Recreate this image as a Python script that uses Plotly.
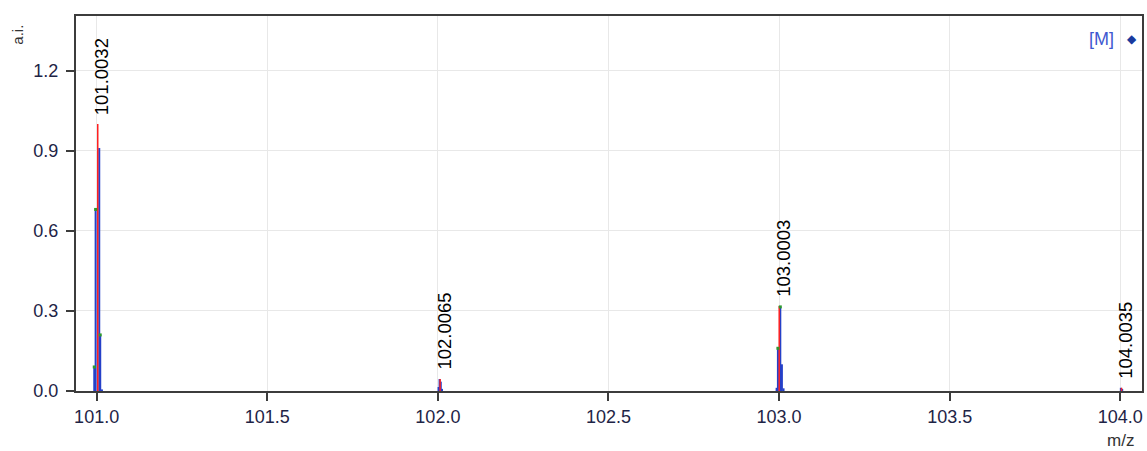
import plotly.graph_objects as go

# Theoretical isotope pattern (red sticks) and labels
theo_mz = [101.0032, 102.0065, 103.0003, 104.0035]
theo_int = [1.00, 0.045, 0.318, 0.012]
peak_labels = ["101.0032", "102.0065", "103.0003", "104.0035"]

# Measured profile points (blue sticks)
meas_mz = [100.9930, 100.9970, 101.0076, 101.0105, 101.0155,
           102.0020, 102.0050, 102.0085, 102.0120,
           102.9927, 102.9965, 103.0035, 103.0082, 103.0130,
           104.0015, 104.0055]
meas_int = [0.09, 0.68, 0.91, 0.21, 0.006,
            0.015, 0.045, 0.035, 0.008,
            0.012, 0.16, 0.315, 0.10, 0.010,
            0.012, 0.008]

# Centroid marks (green)
cent_mz = [100.9930, 100.9970, 101.0105, 102.9965, 103.0035]
cent_int = [0.09, 0.68, 0.21, 0.16, 0.315]

x_ticks = [101.0, 101.5, 102.0, 102.5, 103.0, 103.5, 104.0]
y_ticks = [0.0, 0.3, 0.6, 0.9, 1.2]


def sticks(xs, ys):
    sx, sy = [], []
    for a, b in zip(xs, ys):
        sx += [a, a, None]
        sy += [0, b, None]
    return sx, sy


fig = go.Figure()
bx, by = sticks(meas_mz, meas_int)
fig.add_trace(go.Scatter(x=bx, y=by, mode="lines",
                         line=dict(color="#2540c8", width=2),
                         hoverinfo="skip", showlegend=False))
rx, ry = sticks(theo_mz, theo_int)
fig.add_trace(go.Scatter(x=rx, y=ry, mode="lines",
                         line=dict(color="#ff2020", width=1.5),
                         hoverinfo="skip", showlegend=False))
fig.add_trace(go.Scatter(x=cent_mz, y=cent_int, mode="markers",
                         marker=dict(color="#2e9a2e", size=3, symbol="square"),
                         hoverinfo="skip", showlegend=False))

for mz, it, lab in zip(theo_mz, theo_int, peak_labels):
    fig.add_annotation(x=mz, y=it, text=lab, textangle=-90, showarrow=False,
                       xanchor="center", yanchor="bottom", yshift=7, xshift=4,
                       font=dict(family="Liberation Sans, Arial", size=18.5, color="#000000"))

axis_common = dict(showline=True, linecolor="#3c3c3c", linewidth=2, mirror=True,
                   ticks="outside", ticklen=8, tickwidth=1.5, tickcolor="#3c3c3c",
                   showgrid=True, gridcolor="#e8e8e8", gridwidth=1, zeroline=False,
                   tickfont=dict(family="Liberation Sans, Arial", size=18, color="#1e2446"))

fig.update_xaxes(range=[100.9395, 104.0635], tickvals=x_ticks,
                 ticktext=[f"{v:.1f}" for v in x_ticks], **axis_common)
fig.update_yaxes(range=[0, 1.4045], tickvals=y_ticks,
                 ticktext=[f"{v:.1f}" for v in y_ticks], ticklabelstandoff=4, **axis_common)

# axis titles
fig.add_annotation(xref="paper", yref="paper", x=-0.0545, y=0.95, text="a.i.",
                   textangle=-90, showarrow=False, xanchor="center", yanchor="middle",
                   font=dict(family="Liberation Sans, Arial", size=15, color="#333333"))
fig.add_annotation(xref="paper", yref="paper", x=0.9795, y=-0.132, text="m/z",
                   showarrow=False, xanchor="center", yanchor="middle",
                   font=dict(family="Liberation Sans, Arial", size=17, color="#333333"))

# legend-like label
fig.add_annotation(xref="paper", yref="paper", x=0.9757, y=0.94, text="[M]",
                   showarrow=False, xanchor="right", yanchor="middle",
                   font=dict(family="Liberation Sans, Arial", size=18, color="#3f58d0"))
fig.add_annotation(xref="paper", yref="paper", x=0.9905, y=0.94, text="◆",
                   showarrow=False, xanchor="center", yanchor="middle",
                   font=dict(family="DejaVu Sans", size=12, color="#1a3a9e"))

fig.update_layout(width=1147, height=451, margin=dict(l=76, r=3, t=16, b=60),
                  paper_bgcolor="white", plot_bgcolor="white", showlegend=False)

fig.write_html("out.html")
